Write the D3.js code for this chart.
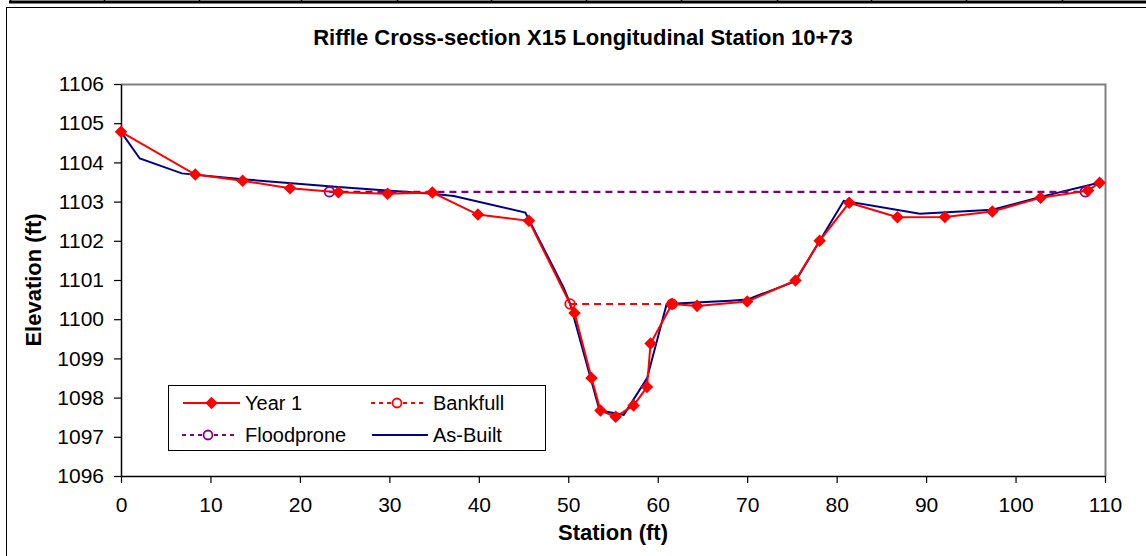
<!DOCTYPE html>
<html>
<head>
<meta charset="utf-8">
<script src="https://cdn.jsdelivr.net/npm/d3@7"></script>
<style>
  body { margin: 0; background: #fff; }
  svg { display: block; }
  text { font-family: "Liberation Sans", Arial, sans-serif; fill: #000; }
</style>
</head>
<body>
<svg id="chart" width="1146" height="556"></svg>
<script>
// Year 1 survey (station ft, elevation ft)
const year1Station = [0, 8.3, 13.6, 18.9, 24.3, 29.8, 34.8, 39.9, 45.6, 50.7, 52.6, 53.6, 55.3, 57.3, 58.8, 59.2, 61.6, 64.4, 70.0, 75.4, 78.1, 81.4, 86.8, 92.1, 97.4, 102.8, 108.1, 109.4];
const year1Elev    = [1104.78, 1103.69, 1103.53, 1103.34, 1103.24, 1103.20, 1103.23, 1102.67, 1102.51, 1100.16, 1098.50, 1097.67, 1097.51, 1097.80, 1098.27, 1099.38, 1100.39, 1100.34, 1100.45, 1100.99, 1102.00, 1102.97, 1102.60, 1102.61, 1102.75, 1103.10, 1103.28, 1103.48];

// As-built survey
const asBuiltStation = [0, 2.1, 6.8, 13.6, 24.3, 34.8, 37.2, 45.2, 49.5, 50.2, 53.5, 56.2, 58.8, 61.0, 68.1, 70.0, 75.4, 80.8, 89.3, 97.4, 102.8, 109.1];
const asBuiltElev    = [1104.78, 1104.10, 1103.72, 1103.57, 1103.37, 1103.20, 1103.14, 1102.72, 1100.80, 1100.40, 1097.67, 1097.56, 1098.49, 1100.39, 1100.47, 1100.50, 1100.97, 1103.02, 1102.69, 1102.79, 1103.12, 1103.47];

// Bankfull and floodprone water surfaces
const bankfullStation = [50.2, 61.6];
const bankfullElev    = [1100.39, 1100.39];
const floodStation    = [23.3, 107.8];
const floodElev       = [1103.25, 1103.25];

// Axis ticks
const xTicks = [0, 10, 20, 30, 40, 50, 60, 70, 80, 90, 100, 110];
const yTicks = [1096, 1097, 1098, 1099, 1100, 1101, 1102, 1103, 1104, 1105, 1106];

const titleText = "Riffle Cross-section X15 Longitudinal Station 10+73";

const svg = d3.select("#chart");
const W = 1146, H = 556;
const plot = { left: 121, right: 1105, top: 84, bottom: 476 };

const x = d3.scaleLinear().domain([0, 110]).range([plot.left, plot.right]);
const y = d3.scaleLinear().domain([1096, 1106]).range([plot.bottom, plot.top]);

const zip = (a, b) => a.map((v, i) => [v, b[i]]);
const year1 = zip(year1Station, year1Elev);
const asBuilt = zip(asBuiltStation, asBuiltElev);
const bankfull = zip(bankfullStation, bankfullElev);
const flood = zip(floodStation, floodElev);

// Table rule above the chart
svg.append("line").attr("x1", 9).attr("x2", W).attr("y1", 2).attr("y2", 2)
  .attr("stroke", "#000").attr("stroke-width", 3);
[10, 104, 199, 301, 397, 491, 586, 681, 777, 871, 966, 1062].forEach(px => {
  svg.append("line").attr("x1", px + 0.5).attr("x2", px + 0.5).attr("y1", 0).attr("y2", 3)
    .attr("stroke", "#000").attr("stroke-width", 1.5);
});

// Chart frame
svg.append("rect").attr("x", 6.5).attr("y", 7.5).attr("width", W + 20).attr("height", H + 20)
  .attr("fill", "none").attr("stroke", "#000").attr("stroke-width", 1);

// Title
svg.append("text").attr("x", 583).attr("y", 44.5).attr("text-anchor", "middle")
  .style("font-size", "22px").style("font-weight", "bold").text(titleText);

// Plot area border (top and right)
svg.append("path")
  .attr("d", `M${plot.left},${plot.top + 0.5}H${plot.right + 0.5}V${plot.bottom}`)
  .attr("fill", "none").attr("stroke", "#808080").attr("stroke-width", 2);

// X axis
const xAxis = svg.append("g").attr("transform", `translate(0,${plot.bottom})`)
  .call(d3.axisBottom(x).tickValues(xTicks).tickSize(7).tickSizeOuter(0).tickPadding(14).tickFormat(d3.format("d")));
xAxis.select(".domain").attr("stroke", "#000").attr("stroke-width", 1.5);
xAxis.selectAll(".tick line").attr("stroke", "#000").attr("stroke-width", 1.2);
xAxis.selectAll("text").style("font-size", "21px").attr("font-family", null).attr("fill", "#000");

// Y axis
const yAxis = svg.append("g").attr("transform", `translate(${plot.left},0)`)
  .call(d3.axisLeft(y).tickValues(yTicks).tickSize(7).tickSizeOuter(0).tickPadding(10).tickFormat(d3.format("d")));
yAxis.select(".domain").attr("stroke", "#000").attr("stroke-width", 1.5);
yAxis.selectAll(".tick line").attr("stroke", "#000").attr("stroke-width", 1.2);
yAxis.selectAll("text").style("font-size", "21px").attr("font-family", null).attr("fill", "#000");

// Axis titles
svg.append("text").attr("x", (plot.left + plot.right) / 2).attr("y", 540)
  .attr("text-anchor", "middle").style("font-size", "22px").style("font-weight", "bold")
  .text("Station (ft)");
svg.append("text").attr("transform", `translate(33,${(plot.top + plot.bottom) / 2}) rotate(-90)`)
  .attr("text-anchor", "middle").attr("dy", "0.35em")
  .style("font-size", "22px").style("font-weight", "bold").text("Elevation (ft)");

const line = d3.line().x(d => x(d[0])).y(d => y(d[1]));
const diamond = d3.symbol().type(d3.symbolDiamond2).size(100);

const RED = "#ff0000", NAVY = "#000080", PURPLE = "#800080";

// As-built line
svg.append("path").datum(asBuilt).attr("d", line)
  .attr("fill", "none").attr("stroke", NAVY).attr("stroke-width", 2);

// Bankfull
svg.append("path").datum(bankfull).attr("d", line)
  .attr("fill", "none").attr("stroke", RED).attr("stroke-width", 2).attr("stroke-dasharray", "7,5");
svg.selectAll(".bf").data(bankfull).join("circle").attr("class", "bf")
  .attr("cx", d => x(d[0])).attr("cy", d => y(d[1])).attr("r", 4.8)
  .attr("fill", "none").attr("stroke", RED).attr("stroke-width", 1.8);

// Floodprone
svg.append("path").datum(flood).attr("d", line)
  .attr("fill", "none").attr("stroke", PURPLE).attr("stroke-width", 2.2).attr("stroke-dasharray", "7,5");
svg.selectAll(".fp").data(flood).join("circle").attr("class", "fp")
  .attr("cx", d => x(d[0])).attr("cy", d => y(d[1])).attr("r", 4.8)
  .attr("fill", "none").attr("stroke", PURPLE).attr("stroke-width", 1.8);

// Year 1
svg.append("path").datum(year1).attr("d", line)
  .attr("fill", "none").attr("stroke", RED).attr("stroke-width", 2);
svg.selectAll(".y1").data(year1).join("path").attr("class", "y1")
  .attr("transform", d => `translate(${x(d[0])},${y(d[1])})`)
  .attr("d", diamond).attr("fill", RED);

// Legend
const lg = svg.append("g");
lg.append("rect").attr("x", 168.5).attr("y", 385.5).attr("width", 377).attr("height", 65)
  .attr("fill", "#fff").attr("stroke", "#000").attr("stroke-width", 1);
const legendItems = [
  { name: "Year 1", x0: 183, x1: 240, ty: 403, color: RED, dash: null, mark: "diamond", tx: 245 },
  { name: "Bankfull", x0: 371, x1: 423, ty: 403, color: RED, dash: "4,4", mark: "circle", tx: 433 },
  { name: "Floodprone", x0: 182, x1: 234, ty: 435, color: PURPLE, dash: "4,4", mark: "circle", tx: 245 },
  { name: "As-Built", x0: 372, x1: 428, ty: 435, color: NAVY, dash: null, mark: null, tx: 433 }
];
legendItems.forEach(it => {
  lg.append("line").attr("x1", it.x0).attr("x2", it.x1).attr("y1", it.ty).attr("y2", it.ty)
    .attr("stroke", it.color).attr("stroke-width", 2).attr("stroke-dasharray", it.dash);
  const mx = (it.x0 + it.x1) / 2;
  if (it.mark === "diamond") {
    lg.append("path").attr("transform", `translate(${mx},${it.ty})`).attr("d", diamond).attr("fill", it.color);
  } else if (it.mark === "circle") {
    lg.append("circle").attr("cx", mx).attr("cy", it.ty).attr("r", 4.5)
      .attr("fill", "#fff").attr("stroke", it.color).attr("stroke-width", 1.8);
  }
  lg.append("text").attr("x", it.tx).attr("y", it.ty).attr("dy", "0.36em")
    .style("font-size", "20px").text(it.name);
});
</script>
</body>
</html>
